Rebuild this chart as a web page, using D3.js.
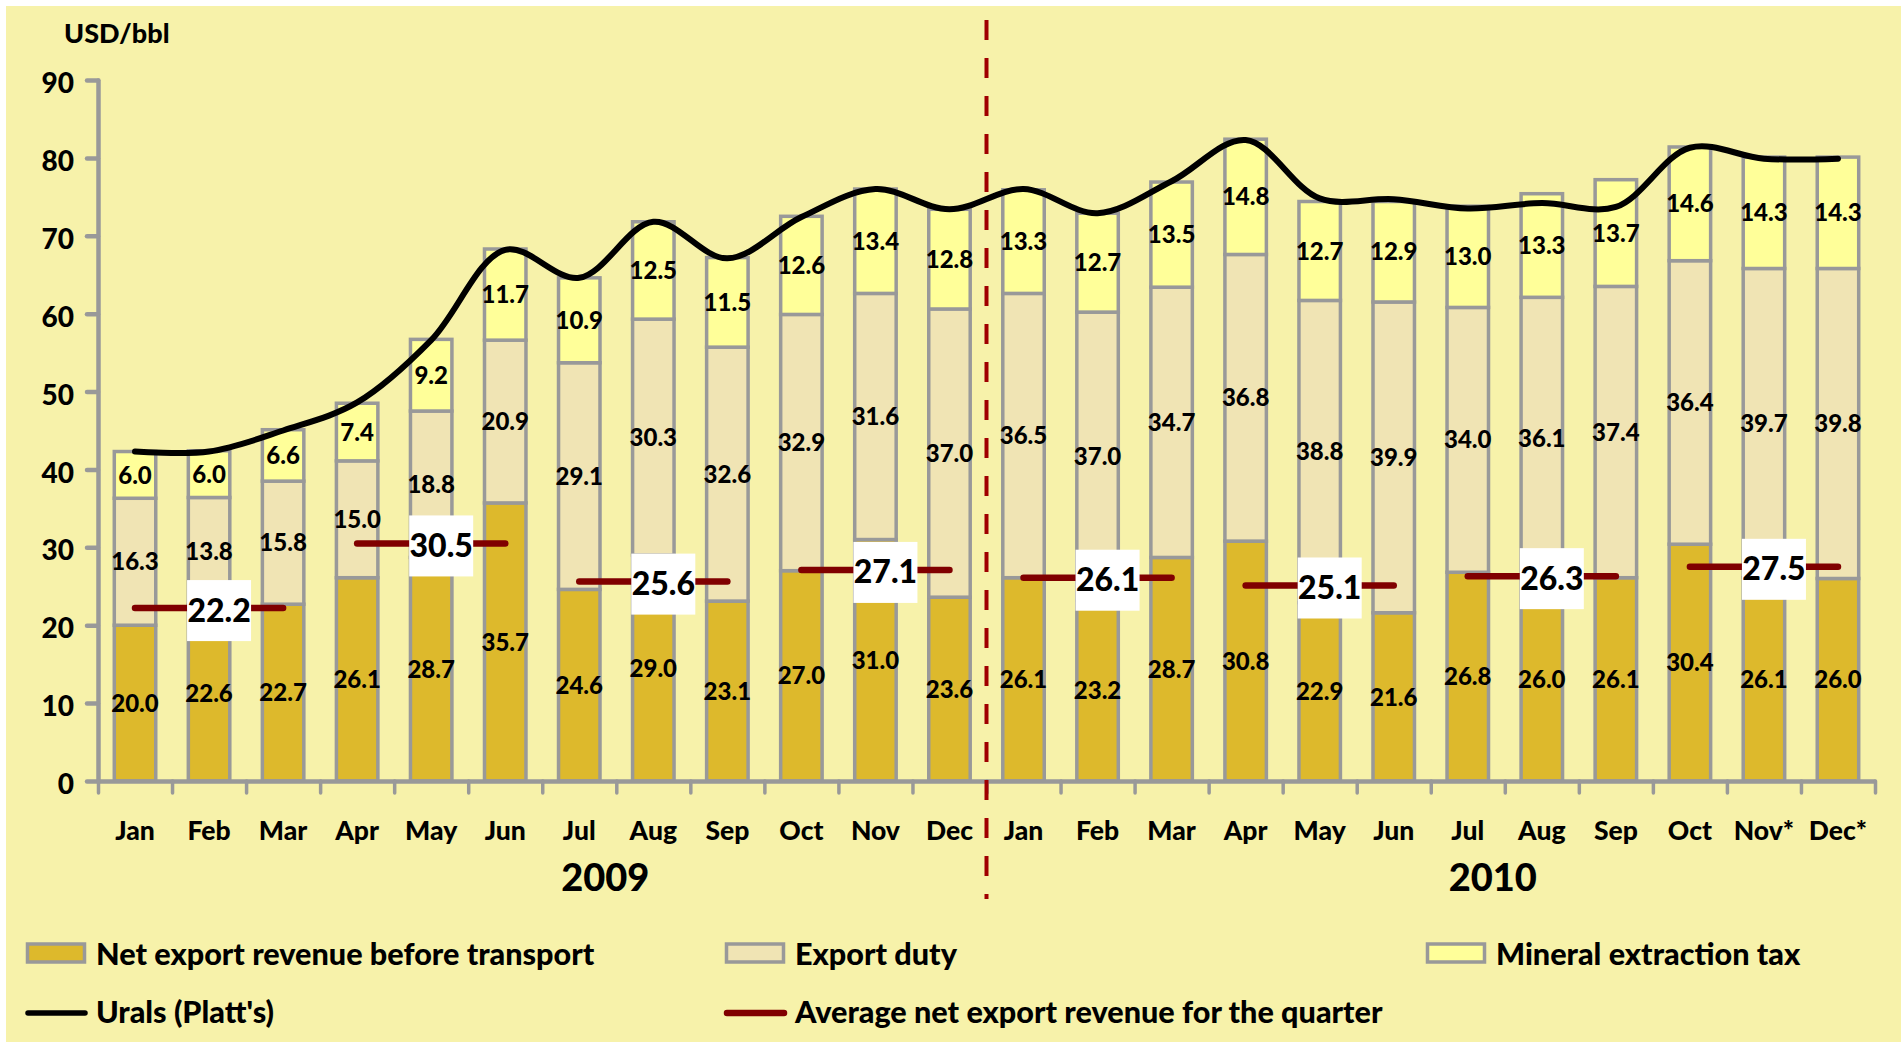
<!DOCTYPE html>
<html><head><meta charset="utf-8">
<script src="https://cdn.jsdelivr.net/npm/d3@7"></script>
<style>
html,body{margin:0;padding:0;background:#fff;}
svg{display:block;font-family:Lato,"Open Sans",sans-serif;font-weight:900;}
</style></head>
<body><svg id="c" width="1901" height="1042"></svg>
<script>
const months = ["Jan","Feb","Mar","Apr","May","Jun","Jul","Aug","Sep","Oct","Nov","Dec",
                "Jan","Feb","Mar","Apr","May","Jun","Jul","Aug","Sep","Oct","Nov*","Dec*"];
const years = ["2009","2010"];
const netExport  = [20.0,22.6,22.7,26.1,28.7,35.7,24.6,29.0,23.1,27.0,31.0,23.6,26.1,23.2,28.7,30.8,22.9,21.6,26.8,26.0,26.1,30.4,26.1,26.0];
const exportDuty = [16.3,13.8,15.8,15.0,18.8,20.9,29.1,30.3,32.6,32.9,31.6,37.0,36.5,37.0,34.7,36.8,38.8,39.9,34.0,36.1,37.4,36.4,39.7,39.8];
const mineralTax = [6.0,6.0,6.6,7.4,9.2,11.7,10.9,12.5,11.5,12.6,13.4,12.8,13.3,12.7,13.5,14.8,12.7,12.9,13.0,13.3,13.7,14.6,14.3,14.3];
const urals      = [42.3,42.3,45.0,48.6,56.6,68.2,64.6,71.8,67.1,72.4,76.0,73.4,76.0,72.9,77.0,82.3,74.8,74.7,73.5,74.2,73.7,81.3,79.9,79.9];
const quarterAvg = [22.2,30.5,25.6,27.1,26.1,25.1,26.3,27.5];
const yTicks = [0,10,20,30,40,50,60,70,80,90];
const seriesNames = ["Net export revenue before transport","Export duty","Mineral extraction tax"];
const lineNames = ["Urals (Platt's)","Average net export revenue for the quarter"];

const C = {bg:"#F7F2AA", net:"#DDB92C", duty:"#F0E4B4", met:"#FFFF99", grid:"#999999", avg:"#800000", dash:"#A00000"};

const svg = d3.select("#c");
svg.append("rect").attr("x",6).attr("y",6).attr("width",1895).attr("height",1036).attr("fill",C.bg);

const x0 = 98, x1 = 1875;
const x = d3.scaleBand().domain(d3.range(months.length)).range([x0,x1]).paddingInner(0.44).paddingOuter(0.22);
const xb = d3.scaleLinear().domain([0,months.length]).range([x0,x1]);
const y = d3.scaleLinear().domain([0,90]).range([781,80]);
const cx = i => x(i) + x.bandwidth()/2;

// stacked bars
const rows = months.map((m,i)=>({i, net:netExport[i], duty:exportDuty[i], met:mineralTax[i]}));
const keys = ["net","duty","met"];
const stack = d3.stack().keys(keys)(rows);
const g = svg.append("g");
stack.forEach(s=>{
  g.append("g").selectAll("rect").data(s).join("rect")
    .attr("x",d=>x(d.data.i)).attr("width",x.bandwidth())
    .attr("y",d=>y(d[1])).attr("height",d=>y(d[0])-y(d[1]))
    .attr("fill",C[s.key]).attr("stroke",C.grid).attr("stroke-width",3.5);
});
// bar labels
stack.forEach(s=>{
  g.append("g").selectAll("text").data(s).join("text")
    .attr("x",d=>cx(d.data.i)).attr("y",d=>y((d[0]+d[1])/2))
    .attr("dy","0.36em").attr("text-anchor","middle")
    .attr("font-size",24).attr("fill","#000")
    .text(d=>d.data[s.key].toFixed(1));
});

// axes
const ya = svg.append("g").attr("transform",`translate(${x0},0)`)
  .call(d3.axisLeft(y).tickValues(yTicks).tickSize(11).tickSizeOuter(0).tickPadding(13));
ya.select(".domain").attr("stroke",C.grid).attr("stroke-width",4.5).attr("stroke-linecap","round");
ya.selectAll(".tick line").attr("stroke",C.grid).attr("stroke-width",4.5).attr("stroke-linecap","round");
ya.selectAll(".tick text").attr("font-size",28).attr("font-family","Lato").attr("font-weight",900).attr("fill","#000").attr("dy","0.45em");

const xa = svg.append("g").attr("transform",`translate(0,${y(0)})`)
  .call(d3.axisBottom(xb).tickValues(d3.range(months.length+1)).tickFormat("").tickSize(12).tickSizeOuter(0));
xa.select(".domain").attr("stroke",C.grid).attr("stroke-width",4.5);
xa.selectAll(".tick line").attr("stroke",C.grid).attr("stroke-width",3.5).attr("stroke-linecap","round");

// month labels
svg.append("g").selectAll("text").data(months).join("text")
  .attr("x",(d,i)=>cx(i)).attr("y",840).attr("text-anchor","middle")
  .attr("font-size",26.5).text(d=>d);
// year labels
svg.append("g").selectAll("text").data(years).join("text")
  .attr("x",(d,i)=>i===0 ? xb(6)+63 : xb(18)+62).attr("y",891).attr("text-anchor","middle")
  .attr("font-size",38).text(d=>d);

// year separator
svg.append("line").attr("x1",xb(12)).attr("x2",xb(12)).attr("y1",20).attr("y2",899)
  .attr("stroke",C.dash).attr("stroke-width",4).attr("stroke-dasharray","20,18");

// Urals line
const line = d3.line().x((d,i)=>cx(i)).y(d=>y(d)).curve(d3.curveCatmullRom.alpha(0.5));
svg.append("path").attr("d",line(urals)).attr("fill","none").attr("stroke","#000")
  .attr("stroke-width",6).attr("stroke-linecap","round").attr("stroke-linejoin","round");

// quarterly averages
const qg = svg.append("g");
quarterAvg.forEach((v,q)=>{
  const a = q*3, b = q*3+2, m = q*3+1;
  qg.append("line").attr("x1",cx(a)).attr("x2",cx(b)).attr("y1",y(v)).attr("y2",y(v))
    .attr("stroke",C.avg).attr("stroke-width",6.5).attr("stroke-linecap","round");
  const bx = cx(m)+10, by = y(v)+2;
  qg.append("rect").attr("x",bx-32).attr("y",by-30).attr("width",64).attr("height",61).attr("fill","#fff");
  qg.append("text").attr("x",bx).attr("y",by).attr("dy","0.36em").attr("text-anchor","middle")
    .attr("font-size",32).text(v.toFixed(1));
});

// axis unit
svg.append("text").attr("x",64).attr("y",43).attr("font-size",27).text("USD/bbl");

// legend
const lg = svg.append("g");
const sw = [{x:26,c:C.net},{x:725,c:C.duty},{x:1426,c:C.met}];
seriesNames.forEach((n,i)=>{
  lg.append("rect").attr("x",sw[i].x+1.5).attr("y",944).attr("width",57).attr("height",18)
    .attr("fill",sw[i].c).attr("stroke",C.grid).attr("stroke-width",3.5);
  lg.append("text").attr("x",sw[i].x+70).attr("y",965).attr("font-size",30.6).text(n);
});
const lw = [{x:26,c:"#000",w:5.5},{x:725,c:C.avg,w:6.5}];
lineNames.forEach((n,i)=>{
  lg.append("line").attr("x1",lw[i].x+2).attr("x2",lw[i].x+59).attr("y1",1013).attr("y2",1013)
    .attr("stroke",lw[i].c).attr("stroke-width",lw[i].w).attr("stroke-linecap","round");
  lg.append("text").attr("x",lw[i].x+70).attr("y",1023).attr("font-size",30.6).text(n);
});
</script></body></html>
